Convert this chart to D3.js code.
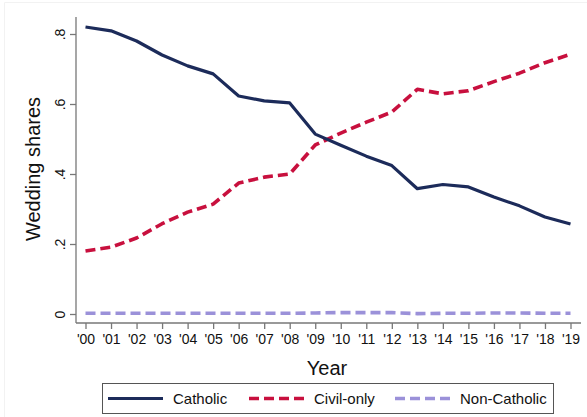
<!DOCTYPE html>
<html><head><meta charset="utf-8">
<script src="https://cdn.jsdelivr.net/npm/d3@7"></script>
<style>body{margin:0;background:#fff}svg{display:block;font-family:"Liberation Sans",Arial,sans-serif}</style>
</head><body><svg id="c" width="587" height="417"></svg>
<script>
const years = ["'00","'01","'02","'03","'04","'05","'06","'07","'08","'09","'10","'11","'12","'13","'14","'15","'16","'17","'18","'19"];
const catholic = [0.820,0.809,0.780,0.740,0.709,0.686,0.623,0.609,0.603,0.514,0.482,0.451,0.424,0.358,0.370,0.363,0.334,0.309,0.277,0.257];
const civilOnly = [0.180,0.191,0.217,0.258,0.291,0.314,0.374,0.391,0.400,0.483,0.517,0.548,0.577,0.642,0.629,0.638,0.664,0.688,0.718,0.742];
const nonCatholic = [0.002,0.002,0.002,0.002,0.002,0.002,0.002,0.002,0.002,0.003,0.004,0.004,0.004,0.001,0.002,0.002,0.003,0.003,0.002,0.002];
const yTicks = [0,0.2,0.4,0.6,0.8];
const yTickLabels = ["0",".2",".4",".6",".8"];
const seriesNames = ["Catholic","Civil-only","Non-Catholic"];
const colors = ["#1c2b5a","#c8103e","#9b91d9"];
const dashes = [null,"10,5","10,5"];

const svg = d3.select("#c");
svg.append("path").attr("d","M4.5,417V2.5H587").attr("fill","none").attr("stroke","#f2f2f2");

const x = d3.scalePoint().domain(years).range([85.5,570.5]);
const y = d3.scaleLinear().domain([0,0.8]).range([314,34]);

// axes
const yAxis = d3.axisLeft(y).tickValues(yTicks).tickFormat((d,i)=>yTickLabels[i]).tickSize(6).tickPadding(4);
const gy = svg.append("g").attr("transform","translate(76,0)").call(yAxis);
gy.select(".domain").attr("d","M0,17V323").attr("stroke","#777").attr("stroke-width",1.3);
gy.selectAll(".tick line").attr("stroke","#777").attr("stroke-width",1.3);
gy.selectAll(".tick text").attr("font-size",14).attr("fill","#111")
  .attr("transform","translate(-16,0) rotate(-90)").attr("x",0).attr("y",0).attr("dy","0.35em").attr("text-anchor","middle");

const xAxis = d3.axisBottom(x).tickSize(6).tickPadding(5);
const gx = svg.append("g").attr("transform","translate(0,323)").call(xAxis);
gx.select(".domain").attr("d","M76,0H581").attr("stroke","#777").attr("stroke-width",1.3);
gx.selectAll(".tick line").attr("stroke","#777").attr("stroke-width",1.3);
gx.selectAll(".tick text").attr("font-size",14).attr("fill","#111");

// axis titles
svg.append("text").attr("transform","translate(40,169) rotate(-90)").attr("text-anchor","middle").attr("font-size",20).attr("fill","#111").text("Wedding shares");
svg.append("text").attr("x",327).attr("y",375).attr("text-anchor","middle").attr("font-size",20).attr("fill","#111").text("Year");

// lines
const allSeries = [catholic,civilOnly,nonCatholic];
const line = d3.line().x((d,i)=>x(years[i])).y(d=>y(d));
[2,1,0].forEach(k=>{
  svg.append("path").datum(allSeries[k]).attr("d",line).attr("fill","none")
    .attr("stroke",colors[k]).attr("stroke-width",k===0?3.2:3.6)
    .attr("stroke-dasharray",dashes[k]).attr("stroke-linejoin","round");
});

// legend
const lg = svg.append("g");
lg.append("rect").attr("x",102.5).attr("y",383.5).attr("width",451).attr("height",30).attr("fill","#fff").attr("stroke","#555").attr("stroke-width",1);
const legX = [108,249,395];
seriesNames.forEach((n,k)=>{
  lg.append("line").attr("x1",legX[k]).attr("x2",legX[k]+55).attr("y1",398.5).attr("y2",398.5)
    .attr("stroke",colors[k]).attr("stroke-width",k===0?3.2:3.6).attr("stroke-dasharray",dashes[k]);
  lg.append("text").attr("x",legX[k]+65).attr("y",404).attr("font-size",15).attr("fill","#111").text(n);
});
</script></body></html>
